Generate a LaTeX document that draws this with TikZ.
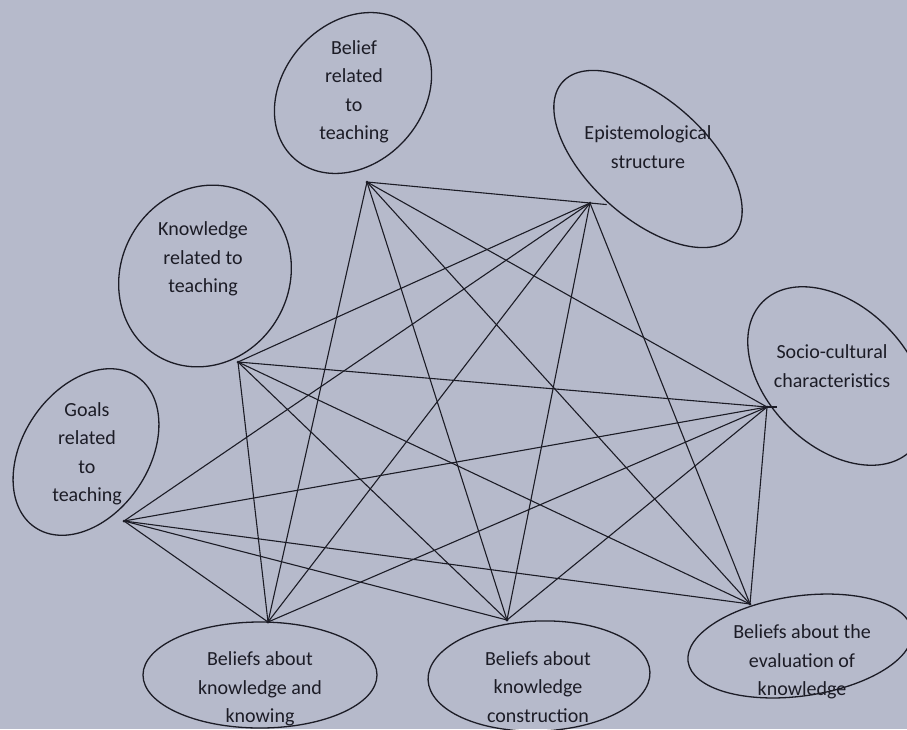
\documentclass[tikz,border=0pt]{standalone}
\usepackage{fontspec}
\setmainfont{Carlito}
\usetikzlibrary{calc}

\definecolor{paper}{RGB}{182,186,203}
\definecolor{ink}{RGB}{28,28,38}

\begin{document}
\begin{tikzpicture}[x=1pt,y=-1pt,
    bubble/.style={draw=ink,line width=1.3pt},
    caption/.style={text=ink,align=center,font=\fontsize{20}{28.5}\selectfont},
    link/.style={draw=ink,line width=1.1pt}]
            \def\dotr{1.5pt}  % size of the hub dots

            % Paper
            \fill[paper] (0,0) rectangle (907,729);
            \useasboundingbox (0,0) rectangle (907,729);

            % Draw the bubbles
            \draw[bubble,rotate around={48:(353,93)}]   (353,93)  ellipse [x radius=88pt,y radius=70pt];
            \draw[bubble,rotate around={-42:(648,159)}] (648,159) ellipse [x radius=115pt,y radius=59pt];
            \draw[bubble,rotate around={60:(205,276)}]  (205,276) ellipse [x radius=93pt,y radius=84pt];
            \draw[bubble,rotate around={-45:(837,376)}] (837,376) ellipse [x radius=105pt,y radius=70pt];
            \draw[bubble,rotate around={56:(86,452)}]   (86,452)  ellipse [x radius=91pt,y radius=63pt];
            \draw[bubble] (260,675) ellipse [x radius=117pt,y radius=53pt];
            \draw[bubble,rotate around={2:(539,676)}]   (539,676) ellipse [x radius=111pt,y radius=55pt];
            \draw[bubble,rotate around={8:(800,646)}]   (800,646) ellipse [x radius=113pt,y radius=50pt];

            % Bubble texts
            \node[caption] (belief)   at (354,92)  {Belief\\related\\to\\teaching};
            \node[caption] (episteme) at (648,147) {Epistemological\\structure};
            \node[caption] (knowl)    at (203,259) {Knowledge\\related to\\teaching};
            \node[caption] (socio)    at (832,366) {Socio-cultural\\characteristics};
            \node[caption] (goals)    at (87,454)  {Goals\\related\\to\\teaching};
            \node[caption] (knowing)  at (260,689) {Beliefs about\\knowledge and\\knowing};
            \node[caption] (constr)   at (538,687) {Beliefs about\\knowledge\\construction};
            \node[caption] (evalu)    at (802,662) {Beliefs about the\\evaluation of\\knowledge};

            % Hubs on the bubbles
            \coordinate (bt) at (367,182);
            \coordinate (ep) at (590,203);
            \coordinate (kt) at (238,362);
            \coordinate (sc) at (767,407);
            \coordinate (gt) at (124,521);
            \coordinate (bk) at (268,622);
            \coordinate (bc) at (507,620);
            \coordinate (be) at (750,604);

            % Draw the links
            \foreach \u in {bt,kt,gt} {
                \foreach \v in {ep,sc,bk,bc,be} {
                     \draw[link] (\u) -- (\v);
                }
            }
            \foreach \u in {ep,sc} {
                \foreach \v in {bk,bc,be} {
                     \draw[link] (\u) -- (\v);
                }
            }
            \draw[link] (ep) -- ($(bt)!1.075!(ep)$);
            \draw[link] (sc) -- ++(10,0);

            \foreach \p in {bt,ep,kt,sc,gt,bk,bc,be} {
                \fill[ink] (\p) circle(\dotr);
            }
        \end{tikzpicture}
\end{document}
